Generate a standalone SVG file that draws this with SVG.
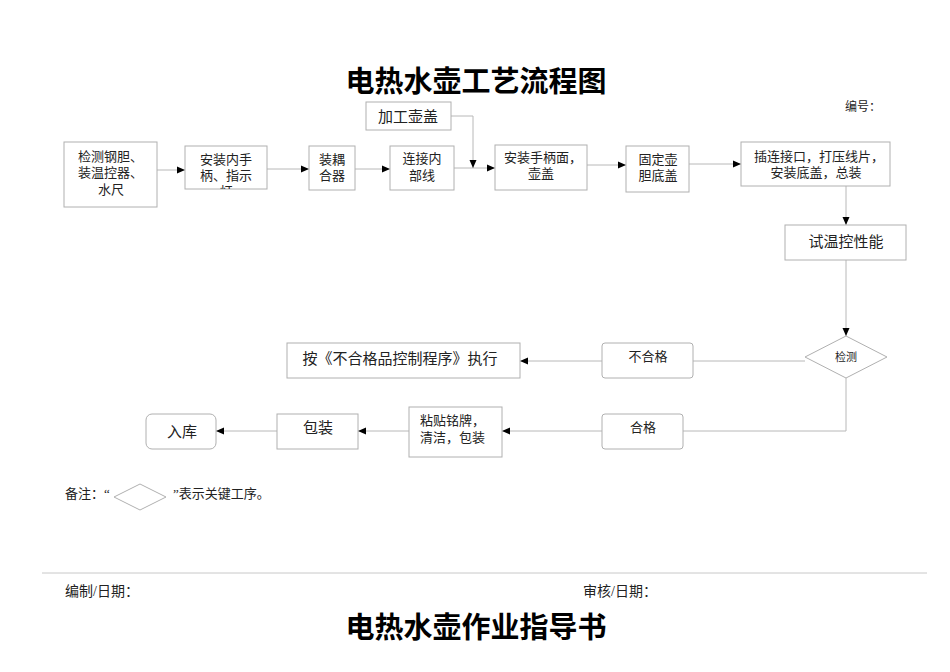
<svg xmlns="http://www.w3.org/2000/svg" width="950" height="672" viewBox="0 0 950 672">
<style>
text{font-family:"Liberation Serif","Noto Sans CJK SC",serif;fill:#222}
.b{fill:#fff;stroke:#b0b0b0;stroke-width:1}
.c{fill:none;stroke:#b8b8b8;stroke-width:1}
.t13{font-size:13px}
.t15{font-size:15px}
.h{font-family:"Noto Sans CJK SC",sans-serif;font-size:29px;font-weight:bold;fill:#000}
.m{text-anchor:middle}
</style>
<defs>
<marker id="a" viewBox="0 0 8 8" refX="8" refY="4" markerWidth="8" markerHeight="8" markerUnits="userSpaceOnUse" orient="auto"><path d="M0,0.5 L8,4 L0,7.5 Z" fill="#000"/></marker>
<clipPath id="cp2"><rect x="185" y="146" width="82" height="43"/></clipPath>
</defs>
<rect width="950" height="672" fill="#fff"/>
<text class="h m" x="476" y="92">电热水壶工艺流程图</text>
<text x="845" y="111" style="font-size:12px">编号：</text>

<g id="connectors">
<path class="c" d="M157,170 H185" marker-end="url(#a)"/>
<path class="c" d="M267,169 H309" marker-end="url(#a)"/>
<path class="c" d="M355,169 H390" marker-end="url(#a)"/>
<path class="c" d="M454,168 H495" marker-end="url(#a)"/>
<path class="c" d="M451,116 H473 V168" marker-end="url(#a)"/>
<path class="c" d="M587,165 H626" marker-end="url(#a)"/>
<path class="c" d="M689,164 H741" marker-end="url(#a)"/>
<path class="c" d="M846,186 V225" marker-end="url(#a)"/>
<path class="c" d="M846,260 V336" marker-end="url(#a)"/>
<path class="c" d="M805,361 H693"/>
<path class="c" d="M602,361 H520" marker-end="url(#a)"/>
<path class="c" d="M846,378 V431 H683"/>
<path class="c" d="M602,431 H502" marker-end="url(#a)"/>
<path class="c" d="M409,431 H358" marker-end="url(#a)"/>
<path class="c" d="M277,431 H216" marker-end="url(#a)"/>
</g>

<g id="n1"><rect class="b" x="64" y="142" width="93" height="65"/>
<text class="t13" x="78" y="161">检测钢胆、</text><text class="t13" x="78" y="177">装温控器、</text><text class="t13 m" x="111" y="194">水尺</text></g>
<g id="n2"><rect class="b" x="185" y="146" width="82" height="43"/>
<g clip-path="url(#cp2)"><text class="t13 m" x="226" y="164">安装内手</text><text class="t13 m" x="226" y="180">柄、指示</text><text class="t13 m" x="226" y="196">灯</text></g></g>
<g id="n3"><rect class="b" x="309" y="146" width="46" height="44"/>
<text class="t13 m" x="332" y="164">装耦</text><text class="t13 m" x="332" y="180">合器</text></g>
<g id="n4"><rect class="b" x="390" y="146" width="64" height="44"/>
<text class="t13 m" x="422" y="163">连接内</text><text class="t13 m" x="422" y="180">部线</text></g>
<g id="n5"><rect class="b" x="366" y="102" width="85" height="28"/>
<text class="t15 m" x="408" y="122">加工壶盖</text></g>
<g id="n6"><rect class="b" x="495" y="145" width="92" height="45"/>
<text class="t13 m" x="543" y="162">安装手柄面，</text><text class="t13 m" x="541" y="178">壶盖</text></g>
<g id="n7"><rect class="b" x="626" y="146" width="63" height="46"/>
<text class="t13 m" x="658" y="164">固定壶</text><text class="t13 m" x="658" y="180">胆底盖</text></g>
<g id="n8"><rect class="b" x="741" y="142" width="149" height="44"/>
<text class="t13 m" x="819" y="161">插连接口，打压线片，</text><text class="t13 m" x="816" y="177">安装底盖，总装</text></g>
<g id="n9"><rect class="b" x="785" y="225" width="121" height="35"/>
<text class="t15 m" x="846" y="247">试温控性能</text></g>
<g id="n10"><path class="b" d="M846,336 L887,357 L846,378 L805,357 Z"/>
<text class="m" x="846" y="361" style="font-size:11px">检测</text></g>
<g id="n11"><rect class="b" x="602" y="343" width="91" height="35" rx="3"/>
<text class="t13 m" x="648" y="361">不合格</text></g>
<g id="n12"><rect class="b" x="287" y="343" width="233" height="35"/>
<text class="t15 m" x="400" y="364">按《不合格品控制程序》执行</text></g>
<g id="n13"><rect class="b" x="602" y="414" width="81" height="35" rx="3"/>
<text class="t13 m" x="643" y="432">合格</text></g>
<g id="n14"><rect class="b" x="409" y="407" width="93" height="50"/>
<text class="t13" x="420" y="425">粘贴铭牌，</text><text class="t13" x="420" y="442">清洁，包装</text></g>
<g id="n15"><rect class="b" x="277" y="414" width="81" height="35"/>
<text class="t15 m" x="318" y="433">包装</text></g>
<g id="n16"><rect class="b" x="146" y="414" width="70" height="35" rx="6"/>
<text class="t15 m" x="182" y="437">入库</text></g>

<g id="note">
<text x="65" y="498" style="font-size:13px">备注：“</text>
<path class="b" d="M114,497 L140,484 L166,497 L140,510 Z"/>
<text x="173" y="498" style="font-size:13px">”表示关键工序。</text>
</g>
<line x1="42" y1="573" x2="927" y2="573" stroke="#c8c8c8" stroke-width="1"/>
<text x="65" y="596" style="font-size:14px">编制/日期：</text>
<text x="583" y="596" style="font-size:14px">审核/日期：</text>
<text class="h m" x="476" y="638">电热水壶作业指导书</text>
</svg>
